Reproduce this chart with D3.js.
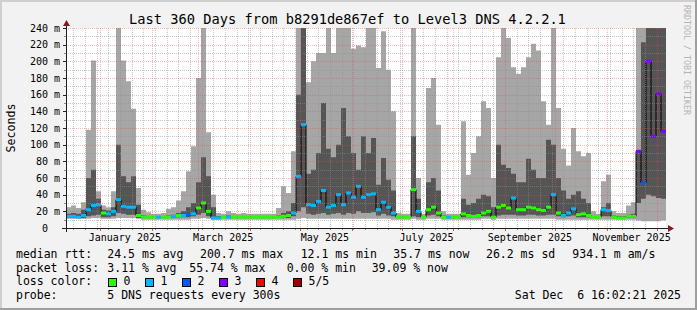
<!DOCTYPE html>
<html>
<head>
<meta charset="utf-8">
<script src="https://cdn.jsdelivr.net/npm/d3@7"></script>
<style>
  html, body { margin: 0; padding: 0; background: #f2f2f2; }
  svg { display: block; font-family: "DejaVu Sans Mono", monospace; }
  text { white-space: pre; }
</style>
</head>
<body>
<svg id="chart" width="697" height="310"></svg>
<script>
// ---- data (3 day bins, 120 bins = 360 days) ----
const endTime = new Date(Date.UTC(2025, 11, 6, 16, 2, 21));
const spanDays = 360;
const stepDays = 3;

const titleText = "Last 360 Days from b8291de867ef to Level3 DNS 4.2.2.1";
const yTicks = [0, 20, 40, 60, 80, 100, 120, 140, 160, 180, 200, 220, 240];
const yMinorTicks = [10, 30, 50, 70, 90, 110, 130, 150, 170, 190, 210, 230];
const monthLabels = ["January 2025", "March 2025", "May 2025", "July 2025", "September 2025", "November 2025"];
const monthLabelDates = ["2025-01-01", "2025-03-01", "2025-05-01", "2025-07-01", "2025-09-01", "2025-11-01"];

const lossColors = ["#26ff00", "#00b8ff", "#0059ff", "#7e00ff", "#ff0000", "#a10000"];
const lossLabels = ["0", "1", "2", "3", "4", "5/5"];

// slowest ping (top of light smoke)
const pingMax = [
  25, 27, 24, 31, 118, 201, 44, 27, 25, 44,
  270, 201, 176, 143, 48, 22, 19, 17, 17, 18,
  23, 25, 33, 44, 68, 98, 180, 270, 115, 40,
  18, 17, 20, 18, 17, 18, 17, 17, 17, 17,
  17, 17, 24, 50, 42, 92, 270, 270, 175, 200,
  210, 210, 270, 210, 270, 270, 270, 215, 219, 217,
  270, 270, 192, 236, 190, 140, 18, 17, 17, 270,
  60, 17, 168, 180, 124, 20, 17, 17, 17, 128,
  64, 90, 110, 152, 144, 60, 205, 270, 228, 193,
  185, 193, 205, 221, 213, 152, 124, 270, 144, 95,
  75, 120, 92, 86, 90, 20, 17, 56, 64, 20,
  18, 18, 27, 31, 270, 270, 270, 270, 270, 270
];
// 4th of 5 pings (top of dark smoke)
const pingHigh = [
  17, 18, 17, 22, 60, 70, 35, 22, 21, 25,
  100, 62, 55, 62, 28, 15, 14, 14, 14, 14,
  15, 16, 18, 20, 25, 30, 55, 85, 62, 25,
  14, 14, 15, 14, 14, 14, 14, 14, 14, 14,
  14, 14, 15, 18, 20, 30, 160, 270, 65, 70,
  90, 150, 95, 85, 100, 144, 110, 90, 70, 110,
  90, 108, 52, 84, 58, 45, 14, 14, 14, 110,
  35, 14, 55, 60, 45, 15, 14, 14, 14, 35,
  28, 30, 35, 40, 38, 25, 100, 76, 72, 65,
  55, 55, 83, 70, 60, 60, 106, 100, 60, 45,
  35, 40, 44, 35, 30, 14, 14, 25, 30, 15,
  14, 14, 16, 17, 92, 223, 270, 270, 270, 270
];
// median rtt
const pingMed = [
  14, 14, 13, 15, 22, 27, 28, 18, 17, 20,
  34, 26, 25, 25, 15, 13, 13, 13, 13, 13,
  13, 14, 15, 15, 16, 17, 24, 30, 20, 12,
  12, 13, 13, 13, 13, 13, 13, 13, 13, 13,
  13, 13, 13, 14, 15, 18, 62, 124, 28, 27,
  32, 45, 25, 27, 40, 28, 42, 37, 50, 37,
  40, 41, 22, 31, 25, 18, 13, 13, 13, 46,
  20, 13, 22, 25, 18, 13, 13, 13, 13, 17,
  15, 14, 15, 18, 20, 13, 25, 27, 24, 36,
  22, 22, 25, 24, 22, 21, 25, 40, 18, 15,
  18, 23, 16, 17, 15, 13, 13, 22, 21, 13,
  12, 12, 14, 14, 92, 54, 200, 110, 161, 116
];
// 2nd of 5 pings (bottom of dark smoke)
const pingLow = [
  12, 12, 12, 12, 14, 15, 16, 13, 13, 14,
  18, 17, 16, 16, 12, 12, 12, 12, 12, 12,
  12, 12, 13, 13, 13, 14, 16, 18, 14, 12,
  12, 12, 12, 12, 12, 12, 12, 12, 12, 12,
  12, 12, 12, 12, 12, 14, 20, 25, 17, 16,
  17, 18, 16, 17, 18, 16, 18, 17, 20, 18,
  18, 19, 15, 17, 15, 14, 12, 12, 12, 14,
  13, 12, 15, 16, 14, 12, 12, 12, 12, 13,
  13, 13, 13, 14, 14, 12, 15, 16, 16, 16,
  15, 15, 16, 16, 15, 15, 16, 16, 14, 13,
  14, 15, 13, 13, 13, 12, 12, 14, 14, 12,
  12, 12, 12, 12, 30, 35, 40, 38, 36, 35
];
// fastest ping (bottom of light smoke)
const pingMin = [
  11, 11, 11, 11, 11, 12, 12, 11, 11, 11,
  12, 12, 12, 12, 11, 10, 10, 10, 10, 10,
  10, 10, 10, 10, 10, 11, 11, 12, 11, 10,
  10, 10, 10, 10, 10, 10, 10, 10, 10, 10,
  10, 10, 10, 10, 10, 10, 11, 12, 11, 11,
  11, 11, 11, 11, 11, 11, 11, 11, 11, 11,
  11, 11, 11, 11, 11, 10, 10, 10, 10, 11,
  10, 10, 11, 11, 11, 10, 10, 10, 10, 10,
  10, 10, 10, 11, 11, 10, 11, 11, 11, 11,
  11, 11, 11, 11, 11, 11, 11, 11, 10, 10,
  10, 10, 10, 10, 10, 10, 10, 10, 10, 10,
  10, 10, 10, 10, 9, 8, 8, 8, 8, 9
];
// lost pings out of 5
const lossCount = [
  1, 1, 1, 1, 1, 1, 1, 0, 1, 1,
  1, 1, 1, 1, 0, 0, 0, 0, 1, 0,
  0, 1, 0, 1, 2, 1, 0, 0, 0, 1,
  1, 0, 1, 0, 0, 0, 0, 0, 0, 0,
  0, 0, 0, 0, 0, 1, 1, 1, 1, 1,
  1, 1, 1, 1, 1, 1, 1, 1, 1, 1,
  1, 1, 1, 1, 1, 1, 0, 0, 0, 0,
  1, 0, 0, 0, 0, 0, 1, 0, 0, 0,
  0, 0, 0, 0, 0, 0, 0, 0, 0, 1,
  0, 0, 0, 0, 0, 0, 0, 1, 0, 1,
  1, 1, 0, 0, 0, 0, 0, 1, 1, 0,
  0, 0, 0, 0, 3, 2, 3, 3, 3, 3
];

const rttLegend = [["median rtt:", 16], ["24.5 ms avg", 107.3], ["200.7 ms max", 200], ["12.1 ms min", 300.7],
                   ["35.7 ms now", 393.3], ["26.2 ms sd", 486], ["934.1 m am/s", 572.3]];
const lossLegend = [["packet loss:", 16], ["3.11 % avg", 107.3], ["55.74 % max", 189.3],
                    ["0.00 % min", 286.7], ["39.09 % now", 371.7]];

// ---- drawing ----
const W = 697, H = 310;
const plot = {left: 66, right: 666, top: 28, bottom: 228};
const svg = d3.select("#chart");

const startTime = d3.utcDay.offset(endTime, -spanDays);
const x = d3.scaleUtc().domain([startTime, endTime]).range([plot.left, plot.right]);
const y = d3.scaleLinear().domain([0, 240]).range([plot.bottom, plot.top]);

// background + 3d frame
svg.append("rect").attr("width", W).attr("height", H).attr("fill", "#f2f2f2");
svg.append("path").attr("d", `M0,0H${W}V2H2V${H}H0Z`).attr("fill", "#cfcfcf");
svg.append("path").attr("d", `M${W},${H}H0V${H-2}H${W-2}V0H${W}Z`).attr("fill", "#9e9e9e");

svg.append("rect")
  .attr("x", plot.left).attr("y", plot.top)
  .attr("width", plot.right - plot.left).attr("height", plot.bottom - plot.top)
  .attr("fill", "#ffffff");

svg.append("clipPath").attr("id", "plotclip")
  .append("rect")
  .attr("x", plot.left).attr("y", plot.top)
  .attr("width", plot.right - plot.left).attr("height", plot.bottom - plot.top);

const bins = pingMed.map((m, i) => ({
  t: d3.utcDay.offset(startTime, i * stepDays),
  t1: d3.utcDay.offset(startTime, (i + 1) * stepDays),
  lo: pingMin[i], q1: pingLow[i], med: m, q3: pingHigh[i], hi: pingMax[i], loss: lossCount[i]
}));
const ext = bins.concat([Object.assign({}, bins[bins.length - 1], {t: endTime})]);

const g = svg.append("g").attr("clip-path", "url(#plotclip)");

const smoke = (k0, k1) => d3.area()
  .curve(d3.curveStepAfter)
  .x(d => x(d.t))
  .y0(d => y(d[k0]))
  .y1(d => y(d[k1]));

g.append("path").datum(ext).attr("d", smoke("lo", "hi")).attr("fill", "#a6a6a6");
g.append("path").datum(ext).attr("d", smoke("q1", "q3")).attr("fill", "#555555");

g.append("path").datum(ext)
  .attr("d", d3.line().curve(d3.curveStepAfter).x(d => x(d.t)).y(d => y(d.med)))
  .attr("fill", "none").attr("stroke", "#000").attr("stroke-width", 1);

g.selectAll("rect.med").data(bins).enter().append("rect")
  .attr("class", "med")
  .attr("x", d => x(d.t))
  .attr("width", d => x(d.t1) - x(d.t))
  .attr("y", d => y(d.med) - 1.5)
  .attr("height", 3)
  .attr("fill", d => lossColors[d.loss]);

// grid on top of the graph, rrdtool style dotted
const grid = svg.append("g").attr("shape-rendering", "crispEdges").attr("stroke-dasharray", "1,1");
const minorCol = "rgba(143,143,143,0.5)";
const majorCol = "rgba(222,79,79,0.4)";

grid.selectAll("line.hmin").data(yMinorTicks).enter().append("line")
  .attr("x1", plot.left).attr("x2", plot.right)
  .attr("y1", d => Math.round(y(d)) + 0.5).attr("y2", d => Math.round(y(d)) + 0.5)
  .attr("stroke", minorCol);

const weeks = d3.utcMonday.range(startTime, endTime);
const months = d3.utcMonth.range(startTime, endTime);
const monthKeys = new Set(months.map(d => +d3.utcDay.floor(d)));

grid.selectAll("line.vmin").data(weeks.filter(d => !monthKeys.has(+d))).enter().append("line")
  .attr("x1", d => Math.round(x(d)) + 0.5).attr("x2", d => Math.round(x(d)) + 0.5)
  .attr("y1", plot.top).attr("y2", plot.bottom)
  .attr("stroke", minorCol);

grid.selectAll("line.hmaj").data(yTicks.filter(d => d > 0)).enter().append("line")
  .attr("x1", plot.left).attr("x2", plot.right)
  .attr("y1", d => Math.round(y(d)) + 0.5).attr("y2", d => Math.round(y(d)) + 0.5)
  .attr("stroke", majorCol);

grid.selectAll("line.vmaj").data(months).enter().append("line")
  .attr("x1", d => Math.round(x(d)) + 0.5).attr("x2", d => Math.round(x(d)) + 0.5)
  .attr("y1", plot.top).attr("y2", plot.bottom)
  .attr("stroke", majorCol);

// axis ticks
const ticks = svg.append("g").attr("shape-rendering", "crispEdges");
ticks.selectAll("line.yt").data(yTicks).enter().append("line")
  .attr("x1", plot.left - 3).attr("x2", plot.left)
  .attr("y1", d => Math.round(y(d)) + 0.5).attr("y2", d => Math.round(y(d)) + 0.5)
  .attr("stroke", "#1f1f1f");
ticks.selectAll("line.yt2").data(yMinorTicks).enter().append("line")
  .attr("x1", plot.left - 2).attr("x2", plot.left)
  .attr("y1", d => Math.round(y(d)) + 0.5).attr("y2", d => Math.round(y(d)) + 0.5)
  .attr("stroke", "#8f8f8f");
ticks.selectAll("line.xt").data(weeks).enter().append("line")
  .attr("x1", d => Math.round(x(d)) + 0.5).attr("x2", d => Math.round(x(d)) + 0.5)
  .attr("y1", plot.bottom).attr("y2", plot.bottom + 2)
  .attr("stroke", "#8f8f8f");
ticks.selectAll("line.xt2").data(months).enter().append("line")
  .attr("x1", d => Math.round(x(d)) + 0.5).attr("x2", d => Math.round(x(d)) + 0.5)
  .attr("y1", plot.bottom).attr("y2", plot.bottom + 3)
  .attr("stroke", "#de4f4f");

// axes with arrows
const axisCol = "#1f1f1f", arrowCol = "#801f1f";
svg.append("line")
  .attr("x1", plot.left - 4).attr("x2", plot.right + 3)
  .attr("y1", plot.bottom + 0.5).attr("y2", plot.bottom + 0.5)
  .attr("stroke", axisCol).attr("shape-rendering", "crispEdges");
svg.append("line")
  .attr("x1", plot.left + 0.5).attr("x2", plot.left + 0.5)
  .attr("y1", plot.bottom + 4).attr("y2", plot.top - 3)
  .attr("stroke", axisCol).attr("shape-rendering", "crispEdges");
svg.append("path")
  .attr("d", `M${plot.right + 2},${plot.bottom - 3}L${plot.right + 8},${plot.bottom + 0.5}L${plot.right + 2},${plot.bottom + 4}Z`)
  .attr("fill", arrowCol);
svg.append("path")
  .attr("d", `M${plot.left - 3},${plot.top - 2}L${plot.left + 0.5},${plot.top - 8}L${plot.left + 4},${plot.top - 2}Z`)
  .attr("fill", arrowCol);

// y labels
svg.selectAll("text.yl").data(yTicks).enter().append("text")
  .attr("x", 60).attr("y", d => y(d) + 3.5)
  .attr("text-anchor", "end").attr("font-size", 10)
  .text(d => d === 0 ? "0  " : d + " m");

svg.append("text")
  .attr("transform", `translate(15,${(plot.top + plot.bottom) / 2}) rotate(-90)`)
  .attr("text-anchor", "middle").attr("font-size", 11.6)
  .text("Seconds");

// x labels, centred half a month after the month start
svg.selectAll("text.xl").data(monthLabels).enter().append("text")
  .attr("x", (d, i) => x(d3.utcDay.offset(new Date(monthLabelDates[i] + "T00:00:00Z"), 15)))
  .attr("y", 241)
  .attr("text-anchor", "middle").attr("font-size", 10)
  .text(d => d);

// title + watermark
svg.append("text")
  .attr("x", 347.5).attr("y", 24)
  .attr("text-anchor", "middle").attr("font-size", 13.7)
  .text(titleText);

svg.append("text")
  .attr("transform", "translate(684,5) rotate(90)")
  .attr("font-size", 8.3).attr("fill", "#b4b4b4")
  .text("RRDTOOL / TOBI OETIKER");

// legend
const legend = svg.append("g").attr("font-size", 11.5);
legend.selectAll("text.l1").data(rttLegend).enter().append("text")
  .attr("x", d => d[1]).attr("y", 258).text(d => d[0]);
legend.selectAll("text.l2").data(lossLegend).enter().append("text")
  .attr("x", d => d[1]).attr("y", 271.5).text(d => d[0]);
legend.append("text").attr("x", 16).attr("y", 285.3).text("loss color:");
lossLabels.forEach((lab, i) => {
  const bx = 108.5 + i * 37;
  legend.append("rect")
    .attr("x", bx).attr("y", 278.5).attr("width", 8).attr("height", 8)
    .attr("fill", lossColors[i]).attr("stroke", "#000").attr("stroke-width", 1)
    .attr("shape-rendering", "crispEdges");
  legend.append("text").attr("x", bx + 15).attr("y", 285.3).text(lab);
});
legend.append("text").attr("x", 16).attr("y", 299).text("probe:");
legend.append("text").attr("x", 107.3).attr("y", 299).text("5 DNS requests every 300s");
legend.append("text").attr("x", 681).attr("y", 299).attr("text-anchor", "end")
  .text("Sat Dec  6 16:02:21 2025");
</script>
</body>
</html>
